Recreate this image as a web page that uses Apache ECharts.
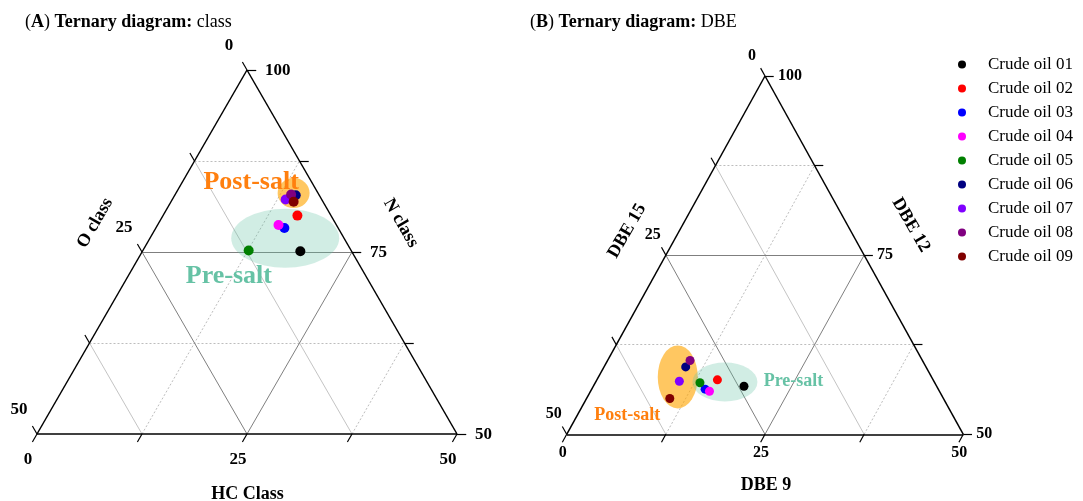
<!DOCTYPE html>
<html>
<head>
<meta charset="utf-8">
<script src="https://cdn.jsdelivr.net/npm/echarts@6/dist/echarts.min.js"></script>
<style>
  html, body { margin: 0; background: #fff; }
  #chart { width: 1083px; height: 501px; }
</style>
</head>
<body>
<div id="chart"></div>
<script>
// crude oils
var oilNames = ['Crude oil 01', 'Crude oil 02', 'Crude oil 03', 'Crude oil 04', 'Crude oil 05',
                'Crude oil 06', 'Crude oil 07', 'Crude oil 08', 'Crude oil 09'];
var oilColors = ['#000000', '#ff0000', '#0000ff', '#ff00ff', '#008000',
                 '#000080', '#8000ff', '#800080', '#800000'];

// (A) class: O (left axis), N (right axis), HC (bottom axis)
var classO  = [6.1, 4.0, 6.4, 6.9, 12.2, 2.8, 4.3, 3.3, 3.5];
var classN  = [75.1, 80.0, 78.3, 78.7, 75.2, 82.8, 82.2, 82.9, 81.9];
var classHC = [18.8, 16.0, 15.3, 14.4, 12.6, 14.4, 13.5, 13.8, 14.6];

// (B) DBE: DBE 15 (left), DBE 12 (right), DBE 9 (bottom)
var dbe15 = [24.3, 27.2, 29.4, 29.0, 29.6, 30.3, 32.1, 29.3, 34.5];
var dbe12 = [56.7, 57.6, 56.3, 56.0, 57.2, 59.4, 57.4, 60.3, 55.0];
var dbe9  = [19.0, 15.2, 14.3, 15.0, 13.2, 10.3, 10.5, 10.4, 10.5];

// axis ticks
var tickValues = [0, 12.5, 25, 37.5, 50];
var gridValues = [12.5, 25, 37.5];
var leftTickLabels = ['0', '25', '50'];
var bottomTickLabels = ['0', '25', '50'];
var rightTickLabels = ['100', '75', '50'];

// group annotations [left, right, bottom] of ellipse centre
var groupNames = ['Post-salt', 'Pre-salt'];
var classGroups = [[2.9, 83.1, 14.0], [7.0, 76.9, 16.1]];
var dbeGroups = [[32.0, 58.0, 10.0], [26.4, 57.3, 16.3]];
var classGroupText = [[7.2, 84.6, 8.2], [16.3, 71.7, 12.0]];
var dbeGroupText = [[41.0, 52.7, 6.3], [17.7, 57.4, 24.9]];

var FONT = 'Liberation Serif';

// ternary -> normalised xy (bottom 0..50, top/right 50..100)
function toXY(bottom, top) {
    return [bottom / 50 + (top - 50) / 100, (top - 50) / 50];
}

var series = [];

function lineSeries(gi, segs, style, z) {
    series.push({
        type: 'lines', coordinateSystem: 'cartesian2d',
        xAxisIndex: gi, yAxisIndex: gi,
        silent: true, clip: false, z: z || 1,
        lineStyle: Object.assign({opacity: 1}, style),
        data: segs.map(function (s) { return {coords: s}; })
    });
}

function labelSeries(gi, items, fontSize, z) {
    series.push({
        type: 'scatter', xAxisIndex: gi, yAxisIndex: gi,
        symbolSize: 0.1, itemStyle: {color: 'rgba(0,0,0,0)', opacity: 1},
        silent: true, clip: false, z: z || 5,
        label: {show: true, fontFamily: FONT, fontWeight: 'bold', fontSize: fontSize, color: '#000'},
        data: items
    });
}

function buildPanel(gi, left, right, bottom, cfg) {
    // grid lines
    var light = [], dots = [], mid = [];
    gridValues.forEach(function (v) {
        var major = v === 25;
        // constant right (top) value
        var t = 50 + v;
        var s1 = [toXY(0, t), toXY(100 - t, t)];
        // constant left value
        var s2 = [toXY(0, 100 - v), toXY(50 - v, 50)];
        // constant bottom value
        var s3 = [toXY(v, 50), toXY(v, 100 - v)];
        if (major) { mid.push(s1, s2, s3); }
        else { dots.push(s1, s3); light.push(s2); }
    });
    lineSeries(gi, light, {color: '#c4c4c4', width: 1});
    lineSeries(gi, dots, {color: '#bdbdbd', width: 1, type: [2, 2]});
    lineSeries(gi, mid, {color: '#7f7f7f', width: 1});

    // edges + ticks
    var d = 1.1;
    var edges = [
        [toXY(0, 100), toXY(0, 50)],
        [toXY(0, 50), toXY(50, 50)],
        [toXY(50, 50), toXY(0, 100)]
    ];
    var ticks = [];
    tickValues.forEach(function (v) {
        ticks.push([toXY(0, 100 - v), toXY(-d, 100 - v + d)]);   // left
        ticks.push([toXY(v, 50), toXY(v, 50 - d)]);               // bottom
        ticks.push([toXY(50 - v, 50 + v), toXY(50 - v + d, 50 + v)]); // right
    });
    lineSeries(gi, edges, {color: '#000', width: 1.5}, 2);
    lineSeries(gi, ticks, {color: '#000', width: 1.2}, 2);

    // tick labels
    var items = [];
    [0, 25, 50].forEach(function (v, i) {
        items.push({value: toXY(0, 100 - v), label: {formatter: leftTickLabels[i],
            position: cfg.leftOff, align: 'center', verticalAlign: 'middle'}});
        items.push({value: toXY(v, 50), label: {formatter: bottomTickLabels[i],
            position: cfg.bottomOff, align: 'center', verticalAlign: 'middle'}});
        items.push({value: toXY(v, 100 - v), label: {formatter: rightTickLabels[i],
            position: cfg.rightOff, align: 'left', verticalAlign: 'middle'}});
    });
    labelSeries(gi, items, cfg.tickFont);

    // group ellipses
    var fills = ['rgba(255,165,0,0.62)', 'rgba(102,194,165,0.3)'];
    cfg.groups.forEach(function (g, i) {
        series.push({
            type: 'scatter', xAxisIndex: gi, yAxisIndex: gi, silent: true, z: 3,
            symbol: 'circle', symbolSize: cfg.groupSizes[i],
            itemStyle: {color: fills[i], opacity: 1},
            data: [toXY(g[2], g[1])]
        });
    });
    // group names
    var textColors = ['#ff7f0e', '#66c2a5'];
    var gItems = cfg.groupText.map(function (g, i) {
        return {value: toXY(g[2], g[1]), label: {formatter: groupNames[i], color: textColors[i],
            position: [0, 0], align: 'center', verticalAlign: 'middle'}};
    });
    labelSeries(gi, gItems, cfg.groupFont, 4);

    // crude oils
    oilNames.forEach(function (name, i) {
        series.push({
            name: name, type: 'scatter', xAxisIndex: gi, yAxisIndex: gi, z: 6,
            symbol: 'circle', symbolSize: cfg.pointSize,
            itemStyle: {color: oilColors[i], opacity: 1},
            data: [toXY(bottom[i], right[i])]
        });
    });
}

buildPanel(0, classO, classN, classHC, {
    leftOff: [-18, -24], bottomOff: [-9, 26], rightOff: [18, 1], tickFont: 17,
    groups: classGroups, groupSizes: [[32, 30], [108, 59]],
    groupText: classGroupText, groupFont: 26, pointSize: 10
});
buildPanel(1, dbe15, dbe12, dbe9, {
    leftOff: [-13, -20], bottomOff: [-4, 19], rightOff: [13, 0], tickFont: 16,
    groups: dbeGroups, groupSizes: [[40, 63], [65, 39]],
    groupText: dbeGroupText, groupFont: 18, pointSize: 9
});

function axisTitle(text, x, y, rot, size) {
    return {type: 'text', x: x, y: y, rotation: rot, z: 10,
        style: {text: text, x: 0, y: 0, align: 'center', verticalAlign: 'middle',
            font: 'bold ' + size + 'px "' + FONT + '"', fill: '#000'}};
}

var option = {
    animation: false,
    backgroundColor: '#fff',
    grid: [
        {left: 37, top: 70, width: 420, height: 364},
        {left: 566.7, top: 76, width: 396.6, height: 358.3}
    ],
    xAxis: [
        {type: 'value', gridIndex: 0, min: 0, max: 1, show: false},
        {type: 'value', gridIndex: 1, min: 0, max: 1, show: false}
    ],
    yAxis: [
        {type: 'value', gridIndex: 0, min: 0, max: 1, show: false},
        {type: 'value', gridIndex: 1, min: 0, max: 1, show: false}
    ],
    legend: {
        data: oilNames,
        orient: 'vertical',
        left: 953, top: 51,
        icon: 'circle',
        itemWidth: 8, itemHeight: 8, itemGap: 7,
        textStyle: {fontFamily: FONT, fontSize: 17, lineHeight: 17, color: '#000', padding: [0, 0, 0, 17]}
    },
    graphic: [
        {type: 'text', x: 25, y: 22, style: {
            text: '({b|A}) {b|Ternary diagram:} class',
            rich: {b: {fontWeight: 'bold', fontFamily: FONT, fontSize: 18}},
            font: '18px "' + FONT + '"', fill: '#000', verticalAlign: 'middle'}},
        {type: 'text', x: 530, y: 22, style: {
            text: '({b|B}) {b|Ternary diagram:} DBE',
            rich: {b: {fontWeight: 'bold', fontFamily: FONT, fontSize: 18}},
            font: '18px "' + FONT + '"', fill: '#000', verticalAlign: 'middle'}},
        axisTitle('O class', 95, 223, Math.PI / 3, 18),
        axisTitle('N class', 401, 223, -Math.PI / 3, 18),
        axisTitle('HC Class', 247.5, 494, 0, 18),
        axisTitle('DBE 15', 627, 231, Math.PI / 3, 18),
        axisTitle('DBE 12', 911, 225, -Math.PI / 3, 18),
        axisTitle('DBE 9', 766, 485, 0, 18)
    ],
    series: series
};

var myChart = echarts.init(document.getElementById('chart'));
myChart.setOption(option);
</script>
</body>
</html>
